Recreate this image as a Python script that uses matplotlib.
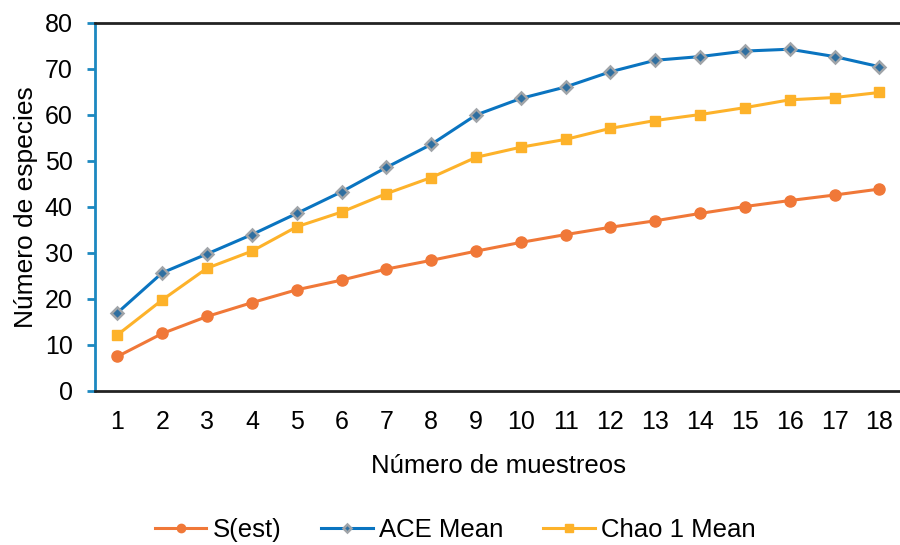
import numpy as np
import matplotlib.pyplot as plt

plt.rcParams['font.family'] = ['Liberation Sans', 'DejaVu Sans']

# Data
muestreos = list(range(1, 19))
s_est = [7.5, 12.5, 16.2, 19.2, 22.0, 24.1, 26.5, 28.4, 30.4, 32.3, 34.0, 35.6,
         37.0, 38.6, 40.1, 41.4, 42.6, 43.9]
ace_mean = [17.0, 25.7, 29.8, 34.0, 38.6, 43.3, 48.6, 53.6, 60.0, 63.6, 66.1, 69.4,
            71.9, 72.7, 73.9, 74.3, 72.7, 70.5]
chao1_mean = [12.2, 19.8, 26.7, 30.4, 35.7, 38.9, 42.9, 46.4, 50.8, 53.0, 54.7, 57.1,
              58.8, 60.1, 61.6, 63.3, 63.8, 64.9]

fig = plt.figure(figsize=(9, 5.45), dpi=100)
ax = fig.add_axes([0.1056, 0.2826, 0.8964, 0.6752])

ax.plot(muestreos, s_est, color='#F07838', lw=2.2, marker='o', ms=8,
        label='S(est)')
ax.plot(muestreos, ace_mean, color='#0A74C0', lw=2.2, marker='D', ms=6,
        mfc='#2F6FA0', mec='#A0A4A8', mew=1.8, label='ACE Mean')
ax.plot(muestreos, chao1_mean, color='#FDB22A', lw=2.2, marker='s', ms=7,
        label='Chao 1 Mean')

ax.set_xlim(0.5, 18.5)
ax.set_ylim(0, 80)
ax.set_xticks(muestreos)
ax.set_yticks(range(0, 81, 10))

ax.spines['right'].set_visible(False)
ax.spines['left'].set_color('#1C88C0')
ax.spines['left'].set_linewidth(2)
ax.spines['top'].set_color('#222222')
ax.spines['top'].set_linewidth(2)
ax.spines['bottom'].set_color('#222222')
ax.spines['bottom'].set_linewidth(2)

ax.tick_params(axis='y', length=6, width=2, color='#1C88C0', labelsize=18,
               pad=10)
ax.tick_params(axis='x', length=0, labelsize=18, pad=14)

ax.set_xlabel('Número de muestreos', fontsize=18.5, labelpad=14)
ax.set_ylabel('Número de especies', fontsize=19, labelpad=5)

fig.legend(*ax.get_legend_handles_labels(), loc='center',
           bbox_to_anchor=(0.506, 0.027), ncol=3, frameon=False, fontsize=18.5,
           handlelength=2.0, handletextpad=0.25, columnspacing=1.55,
           markerscale=0.75)

fig.savefig('out.png', dpi=100)
